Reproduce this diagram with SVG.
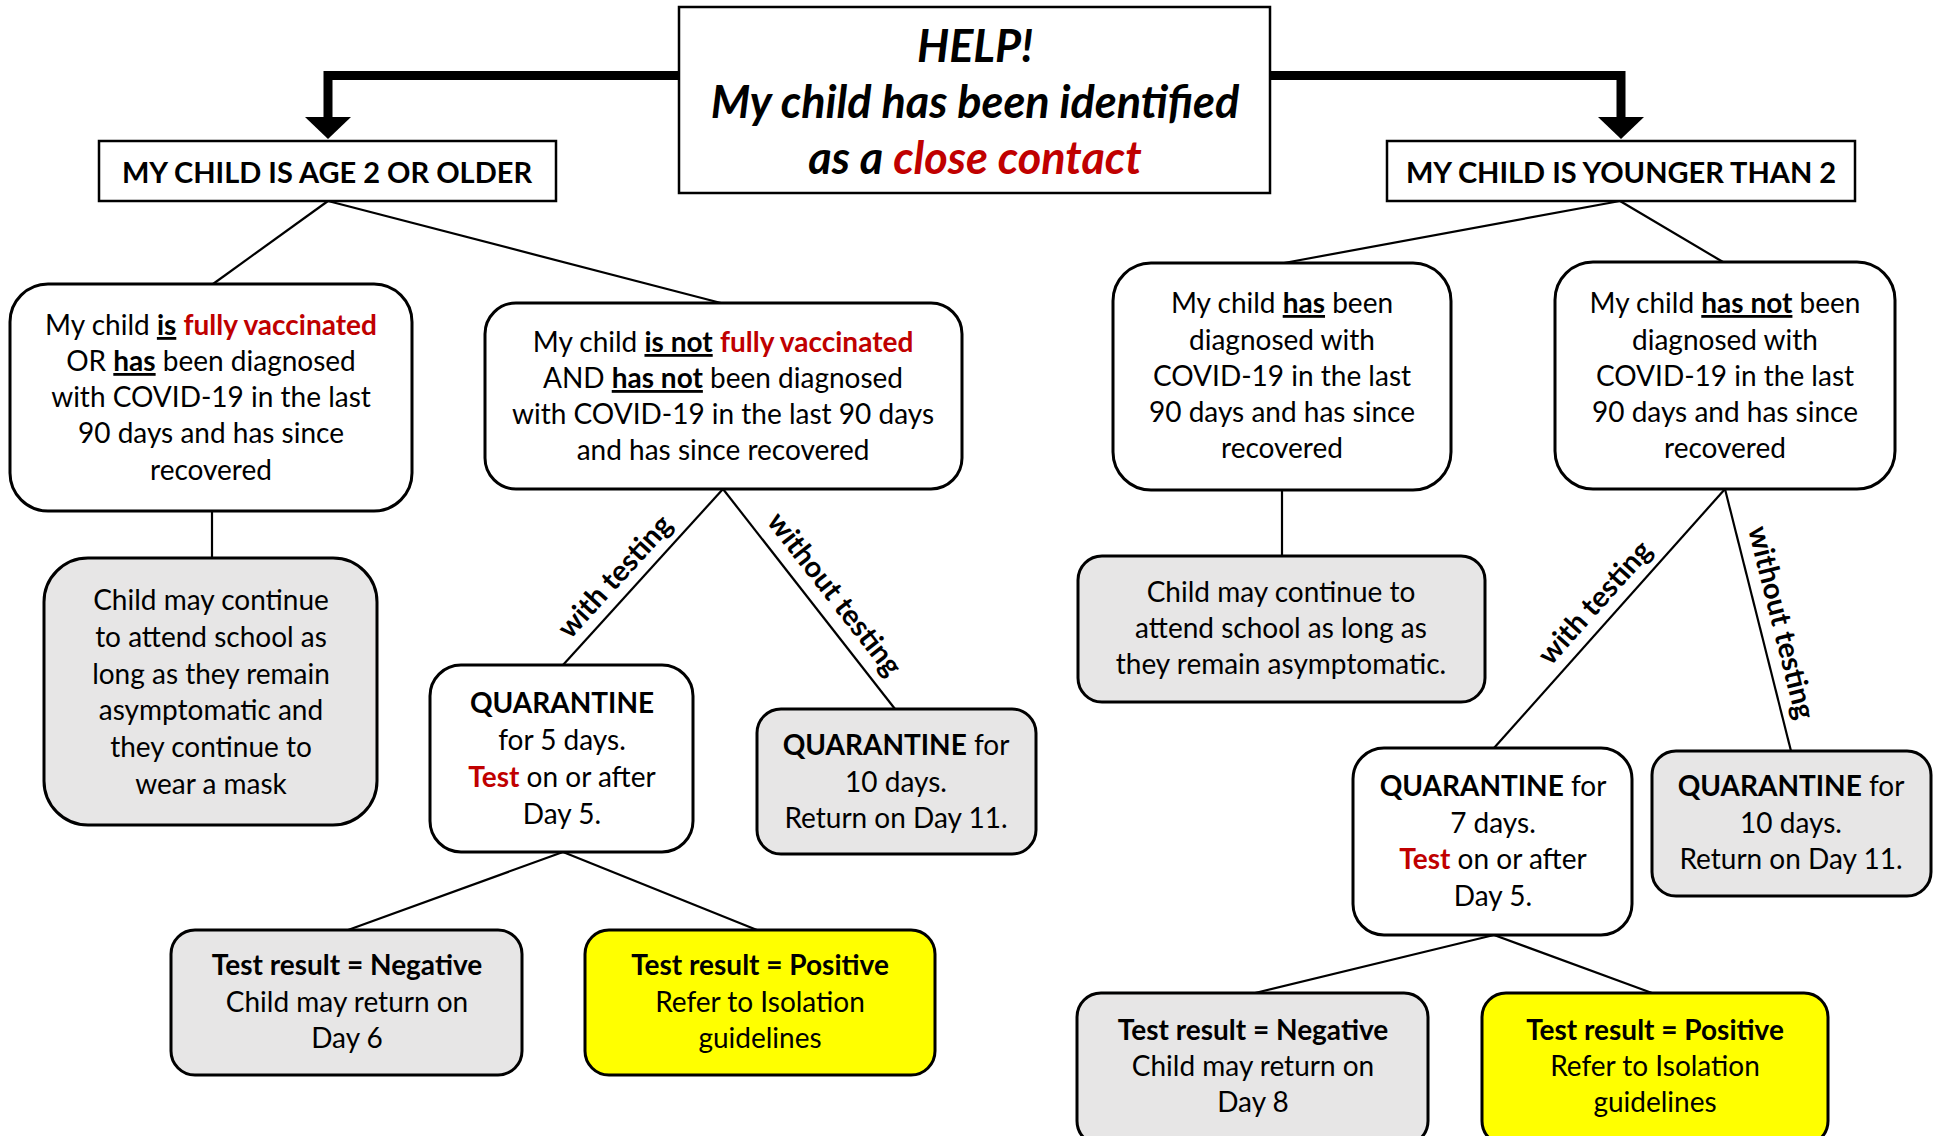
<svg xmlns="http://www.w3.org/2000/svg" width="1937" height="1136" viewBox="0 0 1937 1136">
<style>
  text { font-family: Lato, "Noto Sans", "Liberation Sans", sans-serif; font-size: 28px; fill: #000; text-anchor: middle; }
  .box { fill: #fff; stroke: #000; stroke-width: 3; }
  .gray { fill: #E7E6E6; stroke: #000; stroke-width: 3; }
  .yel { fill: #FFFF00; stroke: #000; stroke-width: 3; }
  .b { font-weight: bold; }
  .u { font-weight: bold; text-decoration: underline; }
  .r { fill: #C00000; }
  .title { font-size: 45px; font-weight: bold; font-style: italic; }
  .hdr { font-size: 29px; font-weight: bold; }
  .lbl { font-size: 29px; font-weight: bold; }
  .conn line { stroke: #000; stroke-width: 2.2; }
</style>
<rect width="1937" height="1136" fill="#fff"/>

<g id="connectors">
  <path d="M679,75.5 H328 V119" fill="none" stroke="#000" stroke-width="9"/>
  <polygon points="305,117 351,117 328,139" fill="#000"/>
  <path d="M1270,75.5 H1621 V119" fill="none" stroke="#000" stroke-width="9"/>
  <polygon points="1598,117 1644,117 1621,139" fill="#000"/>
  <g class="conn">
    <line x1="328" y1="201" x2="213" y2="284"/>
    <line x1="328" y1="201" x2="721" y2="303"/>
    <line x1="212" y1="511" x2="212" y2="558"/>
    <line x1="723" y1="489" x2="563" y2="665"/>
    <line x1="723" y1="489" x2="895" y2="709"/>
    <line x1="563" y1="852" x2="348" y2="930"/>
    <line x1="563" y1="852" x2="757" y2="930"/>
    <line x1="1620" y1="201" x2="1284" y2="263"/>
    <line x1="1620" y1="201" x2="1723" y2="262"/>
    <line x1="1282" y1="490" x2="1282" y2="556"/>
    <line x1="1725" y1="489" x2="1494" y2="748"/>
    <line x1="1725" y1="489" x2="1791" y2="751"/>
    <line x1="1494" y1="935" x2="1255" y2="993"/>
    <line x1="1494" y1="935" x2="1652" y2="993"/>
  </g>
  <text class="lbl" transform="translate(622,583) rotate(-47.7)">with testing</text>
  <text class="lbl" transform="translate(827,600) rotate(52)">without testing</text>
  <text class="lbl" transform="translate(1602,609) rotate(-48.2)">with testing</text>
  <text class="lbl" transform="translate(1772,625) rotate(75.9)">without testing</text>
</g>

<g id="title">
  <rect x="679" y="7" width="591" height="186" fill="#fff" stroke="#000" stroke-width="2.5"/>
  <text class="title" x="975" y="62">HELP!</text>
  <text class="title" x="975" y="118">My child has been identified</text>
  <text class="title" x="975" y="174">as a <tspan class="r">close contact</tspan></text>
</g>

<g id="age2">
  <rect x="99" y="141" width="457" height="60" fill="#fff" stroke="#000" stroke-width="2.5"/>
  <text class="hdr" x="327" y="183">MY CHILD IS AGE 2 OR OLDER</text>
</g>

<g id="younger2">
  <rect x="1387" y="141" width="468" height="60" fill="#fff" stroke="#000" stroke-width="2.5"/>
  <text class="hdr" x="1621" y="183">MY CHILD IS YOUNGER THAN 2</text>
</g>

<g id="n1">
  <rect class="box" x="10" y="284" width="402" height="227" rx="38"/>
  <text x="211" y="335">My child <tspan class="u">is</tspan> <tspan class="b r">fully vaccinated</tspan></text>
  <text x="211" y="371">OR <tspan class="u">has</tspan> been diagnosed</text>
  <text x="211" y="407">with COVID-19 in the last</text>
  <text x="211" y="443">90 days and has since</text>
  <text x="211" y="480">recovered</text>
</g>

<g id="n2">
  <rect class="box" x="485" y="303" width="477" height="186" rx="31"/>
  <text x="723" y="352">My child <tspan class="u">is not</tspan> <tspan class="b r">fully vaccinated</tspan></text>
  <text x="723" y="388">AND <tspan class="u">has not</tspan> been diagnosed</text>
  <text x="723" y="424">with COVID-19 in the last 90 days</text>
  <text x="723" y="460">and has since recovered</text>
</g>

<g id="g1">
  <rect class="gray" x="44" y="558" width="333" height="267" rx="44"/>
  <text x="211" y="610">Child may continue</text>
  <text x="211" y="647">to attend school as</text>
  <text x="211" y="684">long as they remain</text>
  <text x="211" y="720">asymptomatic and</text>
  <text x="211" y="757">they continue to</text>
  <text x="211" y="794">wear a mask</text>
</g>

<g id="q5">
  <rect class="box" x="430" y="665" width="263" height="187" rx="31"/>
  <text class="b" x="562" y="713">QUARANTINE</text>
  <text x="562" y="750">for 5 days.</text>
  <text x="562" y="787"><tspan class="b r">Test</tspan> on or after</text>
  <text x="562" y="824">Day 5.</text>
</g>

<g id="q10a">
  <rect class="gray" x="757" y="709" width="279" height="145" rx="24"/>
  <text x="896" y="755"><tspan class="b">QUARANTINE</tspan> for</text>
  <text x="896" y="792">10 days.</text>
  <text x="896" y="828">Return on Day 11.</text>
</g>

<g id="negA">
  <rect class="gray" x="171" y="930" width="351" height="145" rx="24"/>
  <text class="b" x="347" y="975">Test result = Negative</text>
  <text x="347" y="1012">Child may return on</text>
  <text x="347" y="1048">Day 6</text>
</g>

<g id="posA">
  <rect class="yel" x="585" y="930" width="350" height="145" rx="24"/>
  <text class="b" x="760" y="975">Test result = Positive</text>
  <text x="760" y="1012">Refer to Isolation</text>
  <text x="760" y="1048">guidelines</text>
</g>

<g id="n3">
  <rect class="box" x="1113" y="263" width="338" height="227" rx="38"/>
  <text x="1282" y="313">My child <tspan class="u">has</tspan> been</text>
  <text x="1282" y="350">diagnosed with</text>
  <text x="1282" y="386">COVID-19 in the last</text>
  <text x="1282" y="422">90 days and has since</text>
  <text x="1282" y="458">recovered</text>
</g>

<g id="n4">
  <rect class="box" x="1555" y="262" width="340" height="227" rx="38"/>
  <text x="1725" y="313">My child <tspan class="u">has not</tspan> been</text>
  <text x="1725" y="350">diagnosed with</text>
  <text x="1725" y="386">COVID-19 in the last</text>
  <text x="1725" y="422">90 days and has since</text>
  <text x="1725" y="458">recovered</text>
</g>

<g id="g2">
  <rect class="gray" x="1078" y="556" width="407" height="146" rx="24"/>
  <text x="1281" y="602">Child may continue to</text>
  <text x="1281" y="638">attend school as long as</text>
  <text x="1281" y="674">they remain asymptomatic.</text>
</g>

<g id="q7">
  <rect class="box" x="1353" y="748" width="279" height="187" rx="31"/>
  <text x="1493" y="796"><tspan class="b">QUARANTINE</tspan> for</text>
  <text x="1493" y="833">7 days.</text>
  <text x="1493" y="869"><tspan class="b r">Test</tspan> on or after</text>
  <text x="1493" y="906">Day 5.</text>
</g>

<g id="q10b">
  <rect class="gray" x="1652" y="751" width="279" height="145" rx="24"/>
  <text x="1791" y="796"><tspan class="b">QUARANTINE</tspan> for</text>
  <text x="1791" y="833">10 days.</text>
  <text x="1791" y="869">Return on Day 11.</text>
</g>

<g id="negB">
  <rect class="gray" x="1077" y="993" width="351" height="152" rx="24"/>
  <text class="b" x="1253" y="1040">Test result = Negative</text>
  <text x="1253" y="1076">Child may return on</text>
  <text x="1253" y="1112">Day 8</text>
</g>

<g id="posB">
  <rect class="yel" x="1482" y="993" width="346" height="152" rx="24"/>
  <text class="b" x="1655" y="1040">Test result = Positive</text>
  <text x="1655" y="1076">Refer to Isolation</text>
  <text x="1655" y="1112">guidelines</text>
</g>
</svg>
